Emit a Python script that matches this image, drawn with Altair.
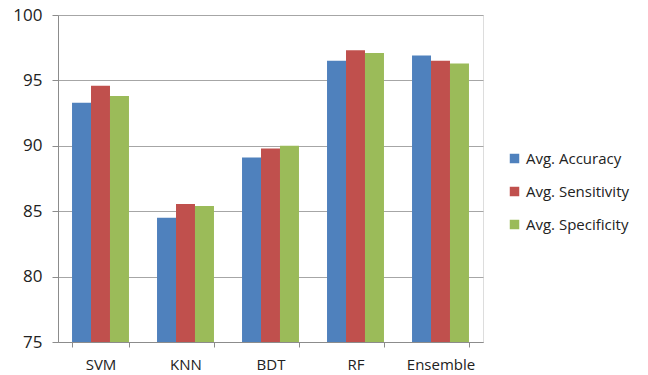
import altair as alt
import pandas as pd

models = ["SVM", "KNN", "BDT", "RF", "Ensemble"]
series = ["Avg. Accuracy", "Avg. Sensitivity", "Avg. Specificity"]
accuracy = [93.3, 84.5, 89.1, 96.5, 96.9]
sensitivity = [94.6, 85.55, 89.8, 97.3, 96.5]
specificity = [93.8, 85.4, 90.0, 97.1, 96.3]
colors = ["#4F81BD", "#C0504D", "#9BBB59"]

rows = []
for i, m in enumerate(models):
    for s, vals in zip(series, [accuracy, sensitivity, specificity]):
        rows.append({"model": m, "series": s, "value": vals[i]})
df = pd.DataFrame(rows)

font = "Open Sans"

chart = alt.Chart(df).mark_bar(clip=True).encode(
    x=alt.X("model:N", sort=models, title=None,
            scale=alt.Scale(paddingInner=0.33, paddingOuter=0.165),
            axis=alt.Axis(labelAngle=0, tickBand="extent", grid=False,
                          domainColor="#8c8c8c", tickColor="#8c8c8c", tickSize=5,
                          labelFontSize=15, labelColor="#222222", labelPadding=10,
                          labelFont=font)),
    xOffset=alt.XOffset("series:N", sort=series, scale=alt.Scale(paddingInner=0, paddingOuter=0)),
    y=alt.Y("value:Q", title=None,
            scale=alt.Scale(domain=[75, 100], nice=False, zero=False),
            axis=alt.Axis(values=[75, 80, 85, 90, 95, 100], grid=True,
                          gridColor="#a6a6a6", gridWidth=1.2,
                          domainColor="#8c8c8c", tickColor="#8c8c8c", tickSize=6,
                          labelFontSize=17, labelColor="#222222", labelPadding=10,
                          labelFont=font)),
    color=alt.Color("series:N", sort=series,
                    scale=alt.Scale(domain=series, range=colors),
                    legend=alt.Legend(title=None, orient="none", legendX=449, legendY=136,
                                      symbolType="square", symbolSize=90,
                                      symbolStrokeWidth=0,
                                      labelFontSize=15, labelFont=font,
                                      labelColor="#222222", rowPadding=17,
                                      labelOffset=4)),
).properties(
    width=425, height=327,
    autosize=alt.AutoSizeParams(type="none"),
    padding={"left": 58, "top": 15, "right": 165, "bottom": 33},
).configure_view(stroke=None).configure(background="white")

chart.save("out.html", embed_options={"renderer": "svg", "actions": False})
